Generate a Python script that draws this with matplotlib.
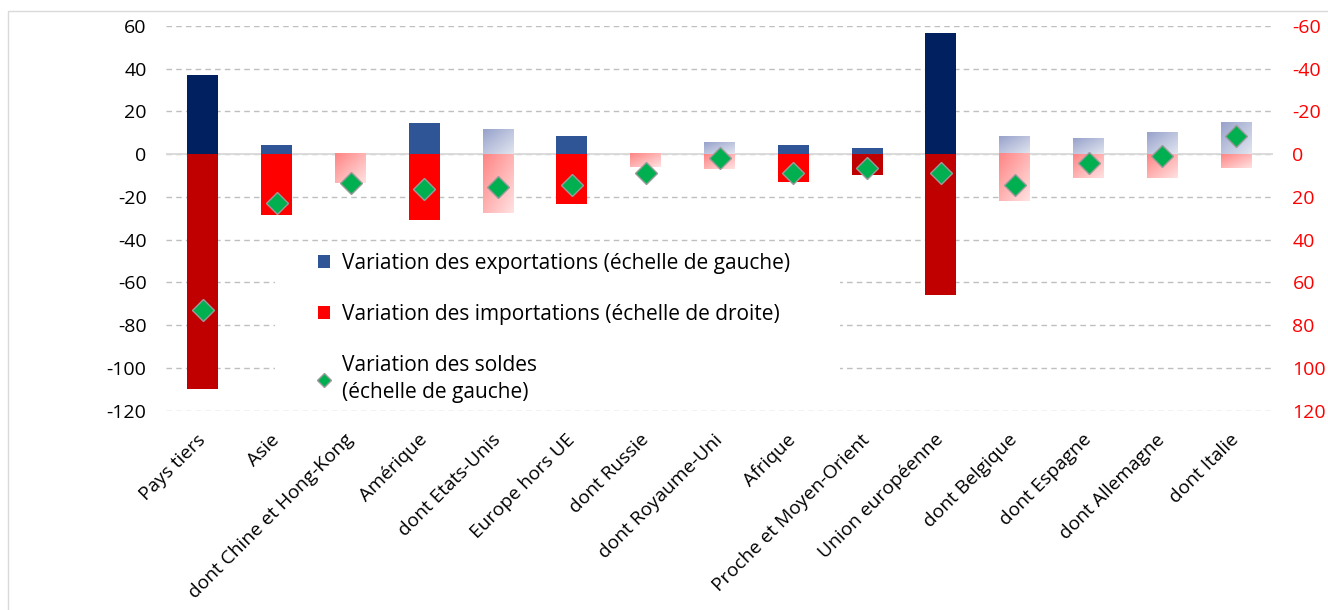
import matplotlib
matplotlib.use("Agg")
import matplotlib.pyplot as plt
import matplotlib.colors as mcolors
from matplotlib.patches import Patch, Rectangle
from matplotlib.lines import Line2D
import numpy as np

plt.rcParams["font.family"] = ["Open Sans", "DejaVu Sans"]
plt.rcParams["axes.unicode_minus"] = False

# ── Data ──────────────────────────────────────────────────────────────────────
categories = [
    "Pays tiers", "Asie", "dont Chine et Hong-Kong", "Amérique", "dont Etats-Unis",
    "Europe hors UE", "dont Russie", "dont Royaume-Uni", "Afrique",
    "Proche et Moyen-Orient", "Union européenne", "dont Belgique", "dont Espagne",
    "dont Allemagne", "dont Italie",
]
exports = [37.0, 4.5, 0.0, 14.7, 11.6, 8.6, -2.5, 5.5, 4.5, 3.1, 56.5, 8.3, 7.3, 10.2, 14.8]
imports = [110.0, 28.2, 13.6, 31.0, 27.6, 23.4, 6.1, 7.0, 13.2, 9.6, 65.8, 22.0, 11.2, 11.2, 6.5]
soldes = [-72.8, -23.0, -13.4, -16.2, -15.4, -14.2, -8.6, -1.7, -8.6, -6.5, -8.6, -14.2, -3.9, -0.9, 8.6]

# bar styles: a colour, or "grad" for the light gradient fill
exp_style = ["#002060", "#2F5597", "grad", "#2F5597", "grad", "#2F5597", "grad", "grad",
             "#2F5597", "#2F5597", "#002060", "grad", "grad", "grad", "grad"]
imp_style = ["#C00000", "#FF0000", "grad", "#FF0000", "grad", "#FF0000", "grad", "grad",
             "#FF0000", "#C00000", "#C00000", "grad", "grad", "grad", "grad"]

EXP_GRAD = ("#97A2CB", "#E2E6F0")
IMP_GRAD = ("#FF8484", "#FFE2E2")
GREEN = "#00B050"


def gradient_fill(ax, patch, c0, c1):
    x0, w = patch.get_x(), patch.get_width()
    y0, h = patch.get_y(), patch.get_height()
    ylo, yhi = min(y0, y0 + h), max(y0, y0 + h)
    n = 60
    t = (np.linspace(0, 1, n)[None, :] + np.linspace(0, 1, n)[:, None]) / 2
    a, b = np.array(mcolors.to_rgb(c0)), np.array(mcolors.to_rgb(c1))
    img = a + (b - a) * t[..., None]
    ax.imshow(img, extent=(x0, x0 + w, ylo, yhi), origin="upper",
              aspect="auto", interpolation="bilinear", zorder=2)


fig = plt.figure(figsize=(13.28, 6.10), dpi=100)
ax = fig.add_axes([0.125, 0.3267, 0.8336, 0.6307])
ax2 = ax.twinx()

x = np.arange(len(categories))
w = 0.42

exp_bars = ax.bar(x, exports, width=w, color="none", zorder=2)
imp_bars = ax.bar(x, [-v for v in imports], width=w, color="none", zorder=3)
for bar, st in zip(exp_bars, exp_style):
    if st == "grad":
        gradient_fill(ax, bar, *EXP_GRAD)
    else:
        bar.set_facecolor(st)
for bar, st in zip(imp_bars, imp_style):
    if st == "grad":
        gradient_fill(ax, bar, *IMP_GRAD)
    else:
        bar.set_facecolor(st)

ax.plot(x, soldes, "D", color=GREEN, ms=11, mec="#9A9A9A", mew=1.0, zorder=5)

ax.axhline(0, color="#D9D9D9", lw=1.3, zorder=1)
ax.set_xlim(-0.5, len(categories) - 0.5)
ax.set_ylim(-120, 60)
ax.set_yticks(np.arange(-120, 61, 20))
ax.yaxis.grid(True, color="#BFBFBF", ls=(0, (4, 3)), lw=1.0)
ax.set_axisbelow(True)
for s in ax.spines.values():
    s.set_visible(False)
for s in ax2.spines.values():
    s.set_visible(False)

ax2.set_ylim(120, -60)
ax2.set_yticks(np.arange(-60, 121, 20))
ax.tick_params(axis="y", length=0, pad=14, labelsize=14)
ax2.tick_params(axis="y", length=0, pad=14, labelsize=14, labelcolor="#FF0000")

ax.set_xticks(x)
ax.set_xticklabels(categories, rotation=45, ha="right", va="center",
                   rotation_mode="anchor", fontsize=13.8)
ax.tick_params(axis="x", length=0, pad=19)

# white box behind the legend (hides the grid there)
ax.add_patch(Rectangle((0.0985, 0.028), 0.5104, 0.4105, transform=ax.transAxes,
                       facecolor="white", edgecolor="none", zorder=1.5))

handles = [
    Patch(facecolor="#2F5597", label="Variation des exportations (échelle de gauche)"),
    Patch(facecolor="#FF0000", label="Variation des importations (échelle de droite)"),
    Line2D([0], [0], marker="D", ls="none", color=GREEN, mec="#9A9A9A", ms=7,
           label="Variation des soldes\n(échelle de gauche)"),
]
leg = ax.legend(handles=handles, loc="upper left", bbox_to_anchor=(0.1373, 0.41),
                fontsize=15, frameon=False, labelspacing=1.45,
                handlelength=0.6, handleheight=0.6, handletextpad=0.55,
                borderpad=0, borderaxespad=0)
for t in leg.get_texts():
    t.set_linespacing(1.35)
leg.set_zorder(10)

fig.patches.append(Rectangle((8 / 1328, -0.1), 1.2, 1.1 - 11 / 610,
                             transform=fig.transFigure, fill=False,
                             edgecolor="#D9D9D9", lw=1.0))

fig.savefig("out.png", dpi=100)
